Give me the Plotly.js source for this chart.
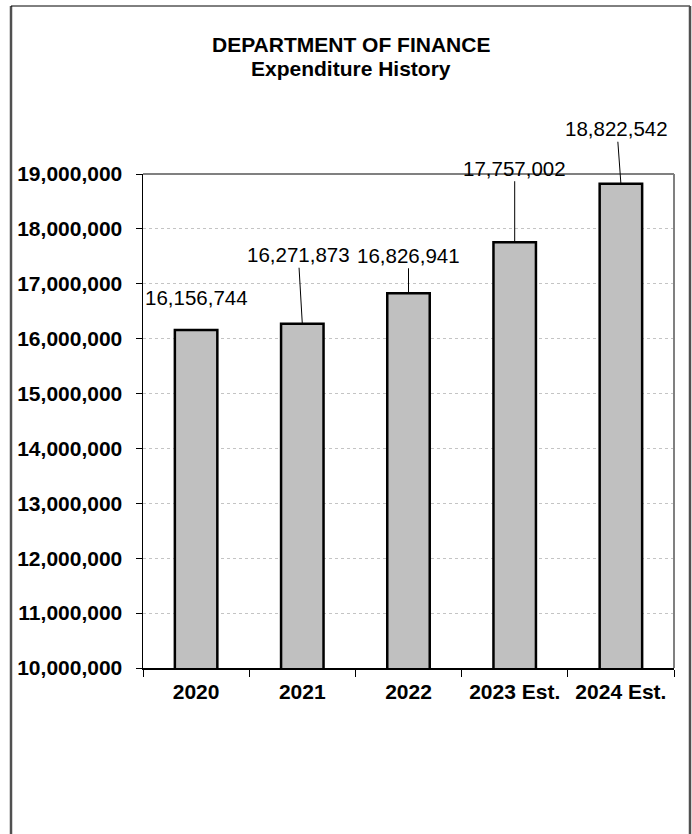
<!DOCTYPE html>
<html>
<head>
<meta charset="utf-8">
<script src="https://cdn.plot.ly/plotly-3.0.1.min.js"></script>
<style>html,body{margin:0;padding:0;background:#fff;}#chart{width:692px;height:834px;}</style>
</head>
<body>
<div id="chart"></div>
<script>
var categories = ["2020", "2021", "2022", "2023 Est.", "2024 Est."];
var expenditures = [16156744, 16271873, 16826941, 17757002, 18822542];
var labelTexts = ["16,156,744", "16,271,873", "16,826,941", "17,757,002", "18,822,542"];
var titleLines = ["DEPARTMENT OF FINANCE", "Expenditure History"];

var W = 692, H = 834;
var L = 143, R = 18, T = 174, B = 166;
var PW = W - L - R, PH = H - T - B;
function px(x) { return (x - L) / PW; }
function py(y) { return 1 - (y - T) / PH; }

var FONT = "Liberation Sans, Arial, Helvetica, sans-serif";

// label offsets (pixels) relative to the bar top: [ax, ay, showArrow]
var labelOffsets = [[0, -33, false], [-4, -69, true], [0, -38, true], [0, -74, true], [-4, -55, true]];

var annotations = categories.map(function (c, i) {
  var o = labelOffsets[i];
  var a = {
    x: i, y: expenditures[i], xref: "x", yref: "y",
    text: labelTexts[i],
    font: {family: FONT, size: 20.5, color: "#000"},
    showarrow: true, arrowhead: 0, arrowwidth: 1, arrowcolor: "#000",
    ax: o[0], ay: o[1], standoff: 0
  };
  if (!o[2]) { a.arrowcolor = "rgba(0,0,0,0)"; }
  return a;
});

var titleY = [45, 69];
titleLines.forEach(function (t, i) {
  annotations.push({
    xref: "paper", yref: "paper", x: px(351), y: py(titleY[i]),
    xanchor: "center", yanchor: "middle", showarrow: false,
    text: t, font: {family: FONT, size: 21, color: "#000", weight: "bold"}
  });
});

var shapes = [
  {type: "line", xref: "paper", yref: "paper", x0: 0, x1: 1, y0: 1, y1: 1, line: {color: "#808080", width: 2}},
  {type: "line", xref: "paper", yref: "paper", x0: 1, x1: 1, y0: 0, y1: 1, line: {color: "#808080", width: 2}},
  {type: "line", xref: "paper", yref: "paper", x0: px(11), x1: px(11), y0: py(6), y1: py(840), line: {color: "#505050", width: 2.5}},
  {type: "line", xref: "paper", yref: "paper", x0: px(11), x1: px(690), y0: py(6), y1: py(6), line: {color: "#000", width: 1}},
  {type: "line", xref: "paper", yref: "paper", x0: px(690), x1: px(690), y0: py(6), y1: py(840), line: {color: "#505050", width: 2.5}}
];

var trace = {
  type: "bar",
  x: categories,
  y: expenditures,
  marker: {color: "#c0c0c0", line: {color: "#000", width: 2.5}},
  hoverinfo: "x+y"
};

var layout = {
  width: W, height: H,
  margin: {l: L, r: R, t: T, b: B, pad: 0},
  paper_bgcolor: "#fff", plot_bgcolor: "#fff",
  showlegend: false,
  bargap: 0.6,
  xaxis: {
    type: "category",
    categoryorder: "array", categoryarray: categories,
    range: [-0.5, categories.length - 0.5],
    autorange: false,
    showline: true, linecolor: "#000", linewidth: 1.5,
    ticks: "outside", tickson: "boundaries", ticklen: 7, tickcolor: "#000", tickwidth: 1,
    tickfont: {family: FONT, size: 21, color: "#000", weight: "bold"},
    tickangle: 0, ticklabelstandoff: 4,
    showgrid: false, zeroline: false, fixedrange: true
  },
  yaxis: {
    range: [10000000, 19000000], autorange: false,
    dtick: 1000000, tick0: 10000000,
    tickformat: ",d",
    showline: true, linecolor: "#000", linewidth: 1.5,
    ticks: "outside", ticklen: 6, tickcolor: "#000", tickwidth: 1,
    tickfont: {family: FONT, size: 21, color: "#000", weight: "bold"},
    showgrid: true, gridcolor: "#c4c4c4", griddash: "dot", gridwidth: 1,
    zeroline: false, fixedrange: true, ticklabelstandoff: 9
  },
  annotations: annotations,
  shapes: shapes
};

Plotly.newPlot("chart", [trace], layout, {displayModeBar: false, staticPlot: true});
</script>
</body>
</html>
